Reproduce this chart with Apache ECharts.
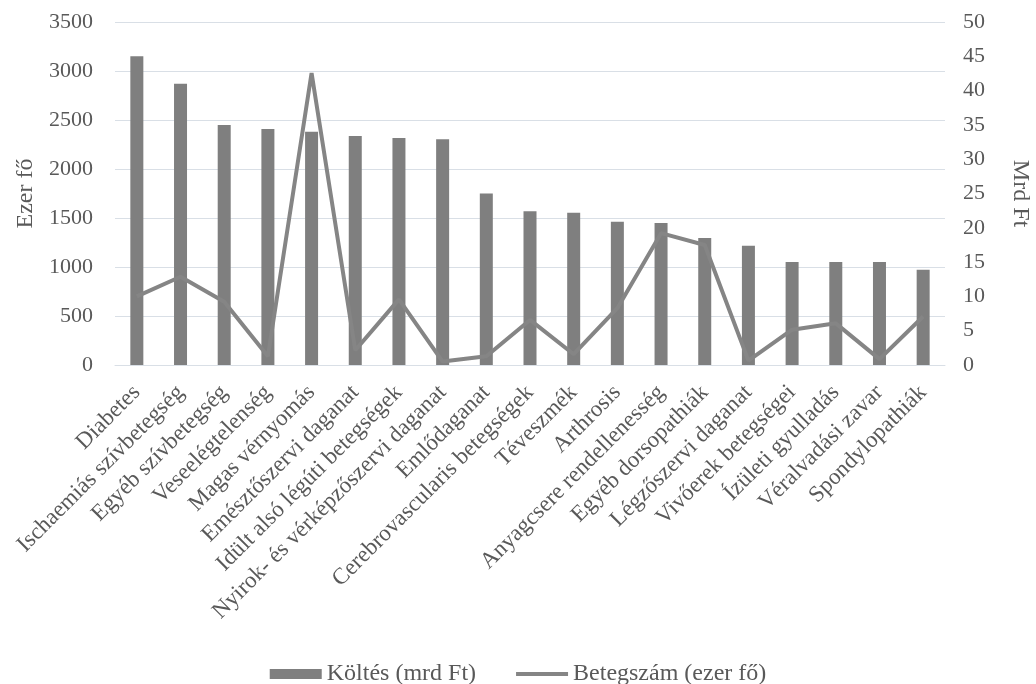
<!DOCTYPE html>
<html>
<head>
<meta charset="utf-8">
<script src="https://cdn.jsdelivr.net/npm/echarts@6/dist/echarts.min.js"></script>
<style>
  html, body { margin: 0; padding: 0; background: #fff; }
  #chart { width: 1036px; height: 684px; }
</style>
</head>
<body>
<div id="chart"></div>
<script>
const categories = [
  'Diabetes', 'Ischaemiás szívbetegség', 'Egyéb szívbetegség', 'Veseelégtelenség',
  'Magas vérnyomás', 'Emésztőszervi daganat', 'Idült alsó légúti betegségek',
  'Nyirok- és vérképzőszervi daganat', 'Emlődaganat', 'Cerebrovascularis betegségek',
  'Téveszmék', 'Arthrosis', 'Anyagcsere rendellenesség', 'Egyéb dorsopathiák',
  'Légzőszervi daganat', 'Vivőerek betegségei', 'Ízületi gyulladás',
  'Véralvadási zavar', 'Spondylopathiák'
]
// Költés (mrd Ft) - right axis
const koltes = [45, 41, 35, 34.4, 34, 33.4, 33.1, 32.9, 25, 22.4, 22.2, 20.9, 20.7, 18.5, 17.4, 15, 15, 15, 13.9]
// Betegszám (ezer fő) - left axis
const betegszam = [700, 900, 645, 90, 2980, 150, 670, 35, 90, 460, 110, 580, 1345, 1225, 45, 360, 425, 60, 495]

const textColor = '#595959'
const font = 'Liberation Serif'

const chart = echarts.init(document.getElementById('chart'))
chart.setOption({
  animation: false,
  textStyle: { fontFamily: font, color: textColor },
  grid: { left: 115, right: 91, top: 22, bottom: 319, containLabel: false, outerBoundsMode: 'none' },
  legend: {
    top: 657,
    left: 'center',
    itemWidth: 52,
    itemHeight: 10,
    itemGap: 40,
    textStyle: { fontFamily: font, fontSize: 24, color: textColor },
    data: [
      { name: 'Költés (mrd Ft)', icon: 'rect' },
      { name: 'Betegszám (ezer fő)', icon: 'path://M0,0 M0,10 M0,3 L52,3 L52,7 L0,7 Z' }
    ]
  },
  xAxis: {
    type: 'category',
    data: categories,
    axisLine: { lineStyle: { color: '#d9dfe6' } },
    axisTick: { show: false },
    axisLabel: {
      rotate: 45,
      interval: 0,
      margin: 24,
      fontSize: 23,
      color: textColor,
      fontFamily: font
    }
  },
  yAxis: [
    {
      type: 'value',
      name: 'Ezer fő',
      nameLocation: 'middle',
      nameGap: 77,
      nameTextStyle: { fontSize: 24, color: textColor, fontFamily: font },
      min: 0,
      max: 3500,
      interval: 500,
      axisLine: { show: false },
      axisTick: { show: false },
      axisLabel: { fontSize: 22, margin: 22, color: textColor, fontFamily: font, formatter: v => String(v) },
      splitLine: { lineStyle: { color: '#d9dfe6' } }
    },
    {
      type: 'value',
      name: 'Mrd Ft',
      nameLocation: 'middle',
      nameGap: 63,
      nameRotate: -90,
      nameTextStyle: { fontSize: 24, color: textColor, fontFamily: font },
      min: 0,
      max: 50,
      interval: 5,
      axisLine: { show: false },
      axisTick: { show: false },
      axisLabel: { fontSize: 22, margin: 18, color: textColor, fontFamily: font },
      splitLine: { show: false }
    }
  ],
  series: [
    {
      name: 'Költés (mrd Ft)',
      type: 'bar',
      yAxisIndex: 1,
      barWidth: 13,
      data: koltes,
      itemStyle: { color: '#7f7f7f' }
    },
    {
      name: 'Betegszám (ezer fő)',
      type: 'line',
      yAxisIndex: 0,
      symbol: 'none',
      data: betegszam,
      lineStyle: { color: '#858585', width: 4 },
      itemStyle: { color: '#858585' }
    }
  ]
})
</script>
</body>
</html>
